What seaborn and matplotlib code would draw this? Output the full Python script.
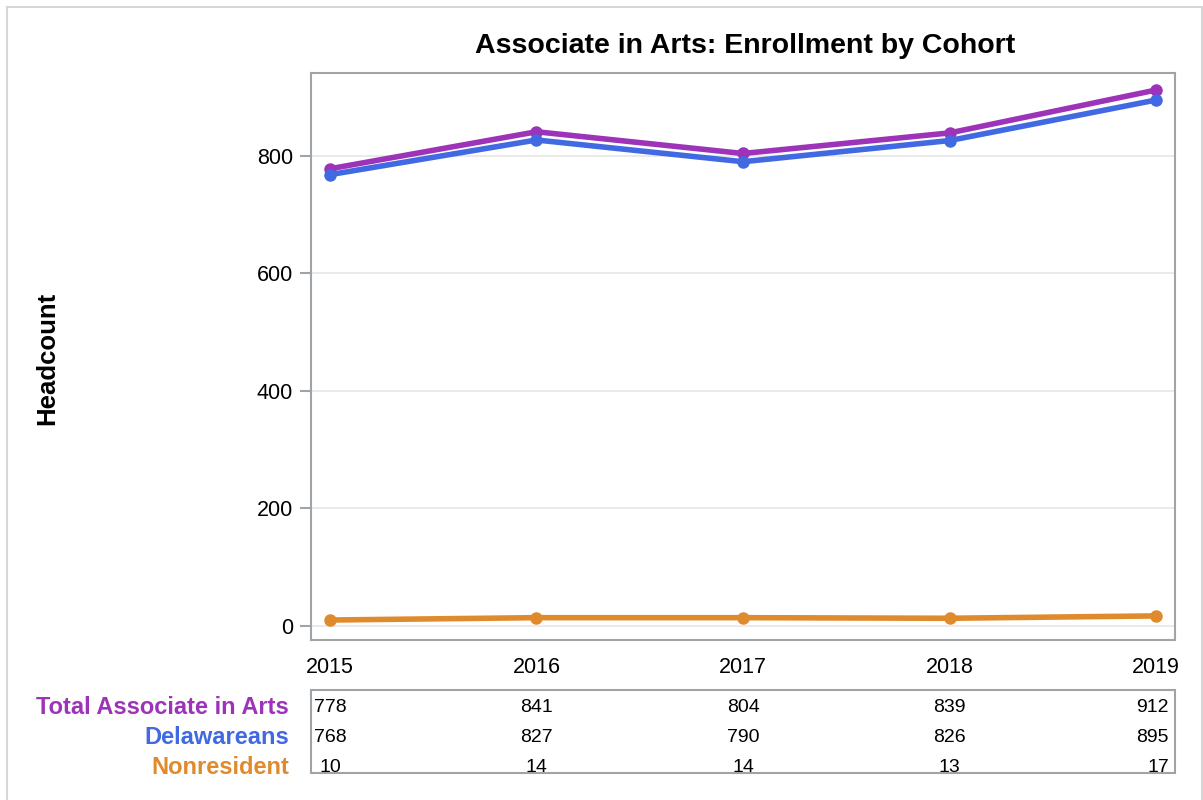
import matplotlib
matplotlib.use("Agg")
import matplotlib.pyplot as plt
import seaborn as sns
import pandas as pd
from matplotlib.patches import Rectangle

years = [2015, 2016, 2017, 2018, 2019]
series_names = ["Total Associate in Arts", "Delawareans", "Nonresident"]
total = [778, 841, 804, 839, 912]
delawareans = [768, 827, 790, 826, 895]
nonresident = [10, 14, 14, 13, 17]
y_ticks = [0, 200, 400, 600, 800]
colors = ["#9c33b8", "#4169e1", "#df8a2c"]

values = [total, delawareans, nonresident]
df = pd.DataFrame({
    "Year": years * 3,
    "Headcount": total + delawareans + nonresident,
    "Series": [n for n in series_names for _ in years],
})

sns.set_theme(style="white")
plt.rcParams['font.family'] = ['Liberation Sans', 'DejaVu Sans']
plt.rcParams['text.color'] = 'black'
plt.rcParams['xtick.labelcolor'] = 'black'
plt.rcParams['ytick.labelcolor'] = 'black'

fig = plt.figure(figsize=(12.03, 8.0), dpi=100)
ax = fig.add_axes([311/1203, 1 - 640/800, (1175-311)/1203, (640-73)/800])

sns.lineplot(data=df, x="Year", y="Headcount", hue="Series", hue_order=series_names,
             palette=colors, marker="o", markersize=9, markeredgewidth=0,
             linewidth=4, ax=ax, legend=False)

ax.set_xlim(2014.908, 2019.092)
ax.set_ylim(-24, 941)
ax.set_yticks(y_ticks)
ax.set_xticks(years)
ax.set_xticklabels([str(y) for y in years])
ax.tick_params(axis="y", length=8, width=1.5, color="#a0a4a8", left=True,
               labelsize=15.5, pad=5, labelcolor="black")
ax.tick_params(axis="x", length=0, labelsize=15.5, pad=12, labelcolor="black")
ax.yaxis.grid(True, color="#e6e6e6", linewidth=1.2)
ax.set_axisbelow(True)
for s in ax.spines.values():
    s.set_color("#a0a4a8")
    s.set_linewidth(1.5)
ax.set_xlabel("")
ax.set_ylabel("")
fig.text(47/1203, 1 - 358/800, "Headcount", rotation=90, fontsize=18.5, fontweight="bold",
         ha="center", va="center", color="black")
fig.text(745/1203, 1 - 46/800, "Associate in Arts: Enrollment by Cohort", fontsize=20.5,
         fontweight="bold", ha="center", va="center", color="black")

# data table
tab_left, tab_right, tab_top, tab_bot = 311, 1175, 690, 773
fig.patches.append(Rectangle((tab_left/1203, 1 - tab_bot/800), (tab_right-tab_left)/1203,
                             (tab_bot-tab_top)/800, transform=fig.transFigure,
                             fill=False, edgecolor="#a0a4a8", linewidth=1.5))
row_y = [708, 738, 767]
for name, col, vals, ry in zip(series_names, colors, values, row_y):
    fig.text(289/1203, 1 - ry/800, name, color=col, fontsize=17, fontweight="bold",
             ha="right", va="center")
    for i, (yr, v) in enumerate(zip(years, vals)):
        xd = ax.transData.transform((yr, 0))[0]
        xf = fig.transFigure.inverted().transform((xd, 0))[0]
        if i == len(years) - 1:
            fig.text(1169/1203, 1 - ry/800, str(v), fontsize=14, ha="right", va="center", color="black")
        else:
            fig.text(xf, 1 - ry/800, str(v), fontsize=14, ha="center", va="center", color="black")

# outer frame
fig.patches.append(Rectangle((6.5/1203, -0.01), (1201.5-6.5)/1203, 1.0 - 6.5/800 + 0.01,
                             transform=fig.transFigure, fill=False,
                             edgecolor="#d6d6d6", linewidth=1.5))

fig.savefig("out.png", dpi=100)
